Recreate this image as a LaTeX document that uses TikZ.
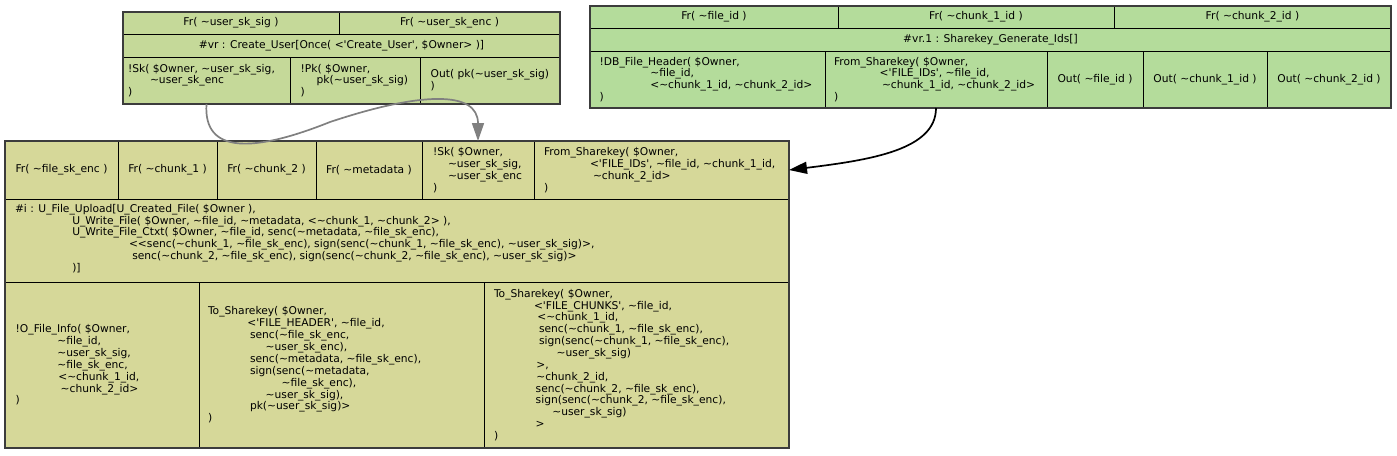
\documentclass[tikz,border=0pt]{standalone}
\usepackage{fontspec}
\newfontfamily\dv{DejaVu Sans}
\usetikzlibrary{arrows.meta,fit}
\newcommand\Tld{\textasciitilde}
\definecolor{cTL}{RGB}{197,217,153}
\definecolor{cTR}{RGB}{180,220,155}
\definecolor{cB}{RGB}{214,216,153}
\definecolor{cRec}{RGB}{60,60,60}
\begin{document}
\begin{tikzpicture}[x=1pt,y=-1pt,
  cellst/.style={draw=black, line width=0.8pt, inner sep=0pt, outer sep=0pt},
  recst/.style={draw=cRec, line width=1.6pt, inner sep=0pt, outer sep=0pt},
  txt/.style={font=\dv\fontsize{10.7pt}{11.86pt}\selectfont, inner sep=0pt, outer sep=0pt, text=black},
  blk/.style={txt, align=left, anchor=west},
  grayedge/.style={draw=gray, line width=1.7pt, -{Triangle[length=18pt,width=12pt]}},
  blackedge/.style={draw=black, line width=1.7pt, -{Triangle[length=18pt,width=12pt]}}]
\useasboundingbox (0,0) rectangle (1397,455);

% ---------- top-left record ----------
\node[cellst, fill=cTL, fit={(123,12) (339,34)}] (tl11) {};
\node[cellst, fill=cTL, fit={(339,12) (560,34)}] (tl12) {};
\node[cellst, fill=cTL, fit={(123,34) (560,57)}] (tl2) {};
\node[cellst, fill=cTL, fit={(123,57) (290,104)}] (tl31) {};
\node[cellst, fill=cTL, fit={(290,57) (420,104)}] (tl32) {};
\node[cellst, fill=cTL, fit={(420,57) (560,104)}] (tl33) {};
\node[recst, fit={(123,12) (560,104)}] (tlrec) {};

\node[txt] at (tl11) {Fr( \Tld user\_sk\_sig )};
\node[txt] at (tl12) {Fr( \Tld user\_sk\_enc )};
\node[txt] at (tl2) {\#vr : Create\_User[Once( <'Create\_User', \$Owner> )]};
\node[blk] at ([xshift=5pt]tl31.west) {!Sk( \$Owner, \Tld user\_sk\_sig,\\\hspace*{22pt}\Tld user\_sk\_enc\\)};
\node[blk] at ([xshift=10.7pt]tl32.west) {!Pk( \$Owner,\\\hspace*{16pt}pk(\Tld user\_sk\_sig)\\)};
\node[blk] at ([xshift=10.7pt]tl33.west) {Out( pk(\Tld user\_sk\_sig)\\)};

% ---------- top-right record ----------
\node[cellst, fill=cTR, fit={(590,6) (838,28)}] (tr11) {};
\node[cellst, fill=cTR, fit={(838,6) (1114,28)}] (tr12) {};
\node[cellst, fill=cTR, fit={(1114,6) (1391,28)}] (tr13) {};
\node[cellst, fill=cTR, fit={(590,28) (1391,51)}] (tr2) {};
\node[cellst, fill=cTR, fit={(590,51) (825,108)}] (tr31) {};
\node[cellst, fill=cTR, fit={(825,51) (1047,108)}] (tr32) {};
\node[cellst, fill=cTR, fit={(1047,51) (1143,108)}] (tr33) {};
\node[cellst, fill=cTR, fit={(1143,51) (1267,108)}] (tr34) {};
\node[cellst, fill=cTR, fit={(1267,51) (1391,108)}] (tr35) {};
\node[recst, fit={(590,6) (1391,108)}] (trrec) {};

\node[txt] at (tr11) {Fr( \Tld file\_id )};
\node[txt] at (tr12) {Fr( \Tld chunk\_1\_id )};
\node[txt] at (tr13) {Fr( \Tld chunk\_2\_id )};
\node[txt] at (tr2) {\#vr.1 : Sharekey\_Generate\_Ids[]};
\node[blk] at ([xshift=9.7pt]tr31.west) {!DB\_File\_Header( \$Owner,\\\hspace*{50.6pt}\Tld file\_id,\\\hspace*{50.6pt}<\Tld chunk\_1\_id, \Tld chunk\_2\_id>\\)};
\node[blk] at ([xshift=9pt]tr32.west) {From\_Sharekey( \$Owner,\\\hspace*{45.7pt}<'FILE\_IDs', \Tld file\_id,\\\hspace*{48pt}\Tld chunk\_1\_id, \Tld chunk\_2\_id>\\)};
\node[txt] at (tr33) {Out( \Tld file\_id )};
\node[txt] at (tr34) {Out( \Tld chunk\_1\_id )};
\node[txt] at (tr35) {Out( \Tld chunk\_2\_id )};

% ---------- bottom record ----------
\node[cellst, fill=cB, fit={(5,141) (118,199)}] (b11) {};
\node[cellst, fill=cB, fit={(118,141) (217,199)}] (b12) {};
\node[cellst, fill=cB, fit={(217,141) (316,199)}] (b13) {};
\node[cellst, fill=cB, fit={(316,141) (422,199)}] (b14) {};
\node[cellst, fill=cB, fit={(422,141) (534,199)}] (b15) {};
\node[cellst, fill=cB, fit={(534,141) (789,199)}] (b16) {};
\node[cellst, fill=cB, fit={(5,199) (789,282)}] (b2) {};
\node[cellst, fill=cB, fit={(5,282) (199,448)}] (b31) {};
\node[cellst, fill=cB, fit={(199,282) (484,448)}] (b32) {};
\node[cellst, fill=cB, fit={(484,282) (789,448)}] (b33) {};
\node[recst, fit={(5,141) (789,448)}] (brec) {};

\node[txt] at (b11) {Fr( \Tld file\_sk\_enc )};
\node[txt] at (b12) {Fr( \Tld chunk\_1 )};
\node[txt] at (b13) {Fr( \Tld chunk\_2 )};
\node[txt] at (b14) {Fr( \Tld metadata )};
\node[blk] at ([xshift=11pt]b15.west) {!Sk( \$Owner,\\\hspace*{15pt}\Tld user\_sk\_sig,\\\hspace*{15pt}\Tld user\_sk\_enc\\)};
\node[blk] at ([xshift=10pt]b16.west) {From\_Sharekey( \$Owner,\\\hspace*{46pt}<'FILE\_IDs', \Tld file\_id, \Tld chunk\_1\_id,\\\hspace*{49pt}\Tld chunk\_2\_id>\\)};
\node[blk] at ([xshift=10pt,yshift=2pt]b2.west) {\#i : U\_File\_Upload[U\_Created\_File( \$Owner ),\\\hspace*{57.3pt}U\_Write\_File( \$Owner, \Tld file\_id, \Tld metadata, <\Tld chunk\_1, \Tld chunk\_2> ),\\\hspace*{57.3pt}U\_Write\_File\_Ctxt( \$Owner, \Tld file\_id, senc(\Tld metadata, \Tld file\_sk\_enc),\\\hspace*{114pt}<<senc(\Tld chunk\_1, \Tld file\_sk\_enc), sign(senc(\Tld chunk\_1, \Tld file\_sk\_enc), \Tld user\_sk\_sig)>,\\\hspace*{117.3pt}senc(\Tld chunk\_2, \Tld file\_sk\_enc), sign(senc(\Tld chunk\_2, \Tld file\_sk\_enc), \Tld user\_sk\_sig)>\\\hspace*{57.3pt})]};
\node[blk] at ([xshift=10.7pt]b31.west) {!O\_File\_Info( \$Owner,\\\hspace*{41.6pt}\Tld file\_id,\\\hspace*{41.6pt}\Tld user\_sk\_sig,\\\hspace*{41.6pt}\Tld file\_sk\_enc,\\\hspace*{42.6pt}<\Tld chunk\_1\_id,\\\hspace*{45pt}\Tld chunk\_2\_id>\\)};
\node[blk] at ([xshift=9pt]b32.west) {To\_Sharekey( \$Owner,\\\hspace*{39.3pt}<'FILE\_HEADER', \Tld file\_id,\\\hspace*{42pt}senc(\Tld file\_sk\_enc,\\\hspace*{57.7pt}\Tld user\_sk\_enc),\\\hspace*{42pt}senc(\Tld metadata, \Tld file\_sk\_enc),\\\hspace*{42pt}sign(senc(\Tld metadata,\\\hspace*{73.7pt}\Tld file\_sk\_enc),\\\hspace*{57.7pt}\Tld user\_sk\_sig),\\\hspace*{42pt}pk(\Tld user\_sk\_sig)>\\)};
\node[blk] at ([xshift=10pt]b33.west) {To\_Sharekey( \$Owner,\\\hspace*{40pt}<'FILE\_CHUNKS', \Tld file\_id,\\\hspace*{43.3pt}<\Tld chunk\_1\_id,\\\hspace*{45pt}senc(\Tld chunk\_1, \Tld file\_sk\_enc),\\\hspace*{45pt}sign(senc(\Tld chunk\_1, \Tld file\_sk\_enc),\\\hspace*{62.7pt}\Tld user\_sk\_sig)\\\hspace*{42.3pt}>,\\\hspace*{42.3pt}\Tld chunk\_2\_id,\\\hspace*{41.7pt}senc(\Tld chunk\_2, \Tld file\_sk\_enc),\\\hspace*{41.7pt}sign(senc(\Tld chunk\_2, \Tld file\_sk\_enc),\\\hspace*{58.3pt}\Tld user\_sk\_sig)\\\hspace*{41.7pt}>\\)};

% ---------- edges ----------
\draw[grayedge] (tl31.south) .. controls (203,155) and (255,152) .. (330,122) .. controls (420,92) and (478,90) .. (b15.north);
\draw[blackedge] (tr32.south) .. controls (936,150) and (870,160) .. (b16.east);
\end{tikzpicture}
\end{document}
